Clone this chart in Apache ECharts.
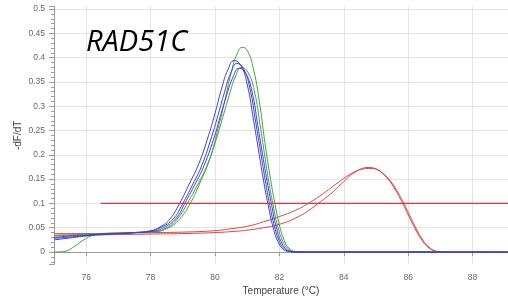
<!DOCTYPE html>
<html>
<head>
<meta charset="utf-8">
<script src="https://cdn.jsdelivr.net/npm/echarts@6/dist/echarts.min.js"></script>
<style>
  html, body { margin: 0; padding: 0; background: #fff; }
  #melt { width: 508px; height: 305px; }
</style>
</head>
<body>
<div id="melt"></div>
<script>
// melt curves, [temperature, -dF/dT]
var blue1 = [[75,0.025],[75.5,0.029],[76,0.033],[76.5,0.036],[77,0.038],[77.5,0.040],[78,0.044],[78.3,0.052],[78.6,0.068],[78.9,0.1],[79.2,0.14],[79.5,0.182],[79.8,0.24],[80,0.285],[80.2,0.335],[80.4,0.375],[80.6,0.394],[80.8,0.384],[81,0.345],[81.2,0.27],[81.35,0.21],[81.5,0.15],[81.65,0.097],[81.8,0.052],[81.95,0.022],[82.1,0.007],[82.3,0.001],[82.5,0],[89.1,0]];
var blue2 = [[75,0.028],[75.5,0.031],[76,0.034],[76.5,0.037],[77,0.038],[77.5,0.040],[78,0.043],[78.3,0.05],[78.7,0.068],[79.0,0.1],[79.3,0.138],[79.6,0.18],[79.9,0.238],[80.1,0.283],[80.3,0.33],[80.5,0.37],[80.68,0.388],[80.88,0.378],[81.08,0.338],[81.27,0.265],[81.42,0.205],[81.56,0.148],[81.7,0.097],[81.85,0.052],[82.0,0.022],[82.15,0.007],[82.35,0.001],[82.55,0],[89.1,0]];
var blue3 = [[75,0.03],[75.5,0.033],[76,0.035],[76.5,0.037],[77,0.038],[77.5,0.04],[78,0.042],[78.4,0.05],[78.8,0.07],[79.06,0.1],[79.36,0.137],[79.66,0.178],[79.96,0.233],[80.16,0.278],[80.36,0.322],[80.56,0.36],[80.75,0.378],[80.95,0.368],[81.15,0.33],[81.33,0.26],[81.48,0.2],[81.62,0.145],[81.76,0.096],[81.9,0.052],[82.05,0.022],[82.2,0.007],[82.4,0.001],[82.6,0],[89.1,0]];
var green1 = [[75,0],[75.3,0.001],[75.6,0.01],[75.9,0.024],[76.2,0.034],[76.6,0.038],[77,0.039],[77.5,0.04],[78,0.041],[78.5,0.05],[78.85,0.07],[79.14,0.1],[79.44,0.136],[79.74,0.176],[80.04,0.232],[80.24,0.277],[80.44,0.322],[80.64,0.362],[80.82,0.38],[81.02,0.37],[81.22,0.332],[81.4,0.262],[81.54,0.2],[81.67,0.145],[81.8,0.098],[81.94,0.055],[82.1,0.023],[82.25,0.008],[82.45,0.001],[82.65,0],[89.1,0]];
var green2 = [[75,0.033],[75.5,0.035],[76,0.037],[76.5,0.038],[77,0.039],[77.5,0.04],[78,0.041],[78.5,0.048],[78.9,0.068],[79.23,0.1],[79.53,0.142],[79.83,0.19],[80.1,0.255],[80.3,0.31],[80.5,0.368],[80.7,0.41],[80.85,0.421],[81.0,0.415],[81.2,0.375],[81.4,0.3],[81.55,0.225],[81.7,0.16],[81.86,0.1],[82.0,0.056],[82.15,0.024],[82.3,0.008],[82.5,0.001],[82.7,0],[89.1,0]];
var red1 = [[75,0.038],[76,0.038],[77,0.039],[78,0.04],[79,0.041],[80,0.044],[80.5,0.048],[81,0.053],[81.5,0.062],[82,0.073],[82.5,0.086],[82.9,0.1],[83.4,0.122],[83.8,0.142],[84.2,0.16],[84.5,0.17],[84.75,0.174],[85.0,0.171],[85.2,0.162],[85.4,0.148],[85.6,0.128],[85.8,0.104],[86.0,0.077],[86.2,0.05],[86.4,0.027],[86.6,0.011],[86.8,0.003],[87.0,0]];
var red2 = [[75,0.035],[76,0.035],[77,0.036],[78,0.037],[79,0.038],[80,0.04],[80.5,0.042],[81,0.045],[81.5,0.05],[82,0.057],[82.5,0.07],[82.9,0.085],[83.2,0.1],[83.6,0.12],[84,0.145],[84.3,0.162],[84.6,0.171],[84.85,0.172],[85.05,0.169],[85.25,0.16],[85.45,0.146],[85.65,0.126],[85.85,0.102],[86.05,0.075],[86.25,0.048],[86.45,0.025],[86.65,0.01],[86.85,0.002],[87.05,0]];
var threshold = [[76.45,0.1],[89.1,0.1]];

var BLUE = "#4040d0";
var GREEN = "#45a045";
var RED = "#e24040";

function curve(name, data, color, width) {
  return {
    name: name,
    type: "line",
    data: data,
    showSymbol: false,
    smooth: true,
    lineStyle: { color: color, width: width || 1 },
    silent: true
  };
}

var chart = echarts.init(document.getElementById("melt"));
chart.setOption({
  animation: false,
  title: {
    text: "RAD51C",
    left: 86,
    top: 28,
    padding: 0,
    textStyle: {
      fontFamily: "Open Sans",
      fontStyle: "italic",
      fontWeight: "normal",
      fontSize: 29,
      color: "#000"
    }
  },
  grid: { left: 54, right: 0, top: 6.6, bottom: 40.8 },
  xAxis: {
    type: "value",
    min: 75,
    max: 89.1,
    splitNumber: 7,
    name: "Temperature (°C)",
    nameLocation: "middle",
    nameGap: 22,
    nameMoveOverlap: false,
    nameTextStyle: { fontFamily: "Liberation Sans", fontSize: 10, color: "#444" },
    axisLine: { lineStyle: { color: "#9a9a9a" } },
    axisTick: { show: true, length: 4, lineStyle: { color: "#9a9a9a" } },
    axisLabel: {
      showMinLabel: false,
      showMaxLabel: false,
      margin: 9,
      fontFamily: "Liberation Sans",
      fontSize: 8.5,
      color: "#666"
    },
    splitLine: { show: true, showMinLine: false, showMaxLine: false, lineStyle: { color: "#e3e3e3" } }
  },
  yAxis: {
    type: "value",
    min: -0.025,
    max: 0.505,
    splitNumber: 10,
    name: "-dF/dT",
    nameLocation: "middle",
    nameGap: 31,
    nameMoveOverlap: false,
    nameTextStyle: { fontFamily: "Liberation Sans", fontSize: 10, color: "#444" },
    axisLine: { show: true, lineStyle: { color: "#9a9a9a" } },
    axisTick: { show: true, length: 5, lineStyle: { color: "#9a9a9a" } },
    minorTick: { show: true, splitNumber: 5, length: 3, lineStyle: { color: "#9a9a9a" } },
    axisLabel: {
      showMinLabel: false,
      showMaxLabel: false,
      margin: 9,
      fontFamily: "Liberation Sans",
      fontSize: 8.5,
      color: "#666"
    },
    splitLine: { show: true, showMinLine: false, showMaxLine: false, lineStyle: { color: "#e3e3e3" } }
  },
  series: [
    curve("red1", red1, RED),
    curve("red2", red2, RED),
    curve("green1", green1, GREEN),
    curve("green2", green2, GREEN),
    curve("blue1", blue1, BLUE),
    curve("blue2", blue2, BLUE),
    curve("blue3", blue3, BLUE),
    curve("threshold", threshold, "#f03030", 1.2)
  ]
});
</script>
</body>
</html>
